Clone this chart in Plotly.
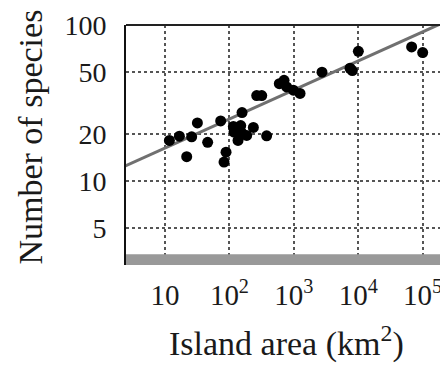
import numpy as np
import plotly.graph_objects as go

# Data (island area km^2, number of species)
area = [11.7, 16.7, 25.9, 21.7, 31.8, 45.9, 73.1, 88.5, 82.4, 117.8,
        149.6, 156.8, 135.8, 185.2, 235, 378, 265, 317, 595, 704,
        774, 982, 1247, 2735, 7443, 8090, 10030, 67400, 100000, 115, 155]
species = [18.3, 19.5, 19.3, 14.4, 23.7, 17.8, 24.4, 15.4, 13.3, 20.7,
           22.8, 27.6, 18.3, 19.7, 22.2, 19.6, 35.5, 35.5, 42.3, 44.4,
           40.3, 38.4, 36.6, 50.1, 53.1, 51.3, 68.2, 72.7, 66.9, 22.5, 20.5]

# Fitted species-area relation S = c * A^z
fit_c = 10.67
fit_z = 0.186

x_tickvals = [10, 100, 1000, 10000, 100000]
x_ticktext = ["10", "10<sup>2</sup>", "10<sup>3</sup>", "10<sup>4</sup>", "10<sup>5</sup>"]
y_tickvals = [5, 10, 20, 50, 100]
y_ticktext = ["5", "10", "20", "50", "100"]

x_range_log = [0.394, 5.362]
y_range_log = [0.465, 2.002]

line_x = np.logspace(x_range_log[0] - 0.05, x_range_log[1] + 0.05, 50)
line_y = fit_c * line_x ** fit_z

FONT = "Liberation Serif"

fig = go.Figure()
fig.add_trace(go.Scatter(x=line_x, y=line_y, mode="lines",
                         line=dict(color="#707070", width=3),
                         hoverinfo="skip", showlegend=False))
fig.add_trace(go.Scatter(x=area, y=species, mode="markers",
                         marker=dict(color="black", size=11, line=dict(width=0)),
                         showlegend=False))

fig.update_layout(
    width=440, height=358,
    margin=dict(l=118, r=2, t=13, b=101),
    paper_bgcolor="white", plot_bgcolor="white",
    font=dict(family=FONT, color="#1a1a1a"),
    xaxis=dict(type="log", range=x_range_log, tickvals=x_tickvals, ticktext=x_ticktext,
               showgrid=True, gridcolor="#555555", griddash="dot", gridwidth=1.5,
               zeroline=False, showline=False, ticks="",
               tickfont=dict(family=FONT, size=29, color="#1a1a1a"),
               ticklabelstandoff=10, ticklabeloverflow="allow"),
    yaxis=dict(type="log", range=y_range_log, tickvals=y_tickvals, ticktext=y_ticktext,
               showgrid=True, gridcolor="#555555", griddash="dot", gridwidth=1.5,
               zeroline=False, showline=True, linecolor="#111111", linewidth=2,
               ticks="", tickfont=dict(family=FONT, size=28, color="#1a1a1a"),
               ticklabelstandoff=12, ticklabeloverflow="allow"),
    shapes=[
        dict(type="rect", xref="paper", yref="paper", x0=0, x1=1, y0=0, y1=0.045,
             fillcolor="#999999", line=dict(width=0), layer="above"),
        dict(type="line", xref="paper", yref="paper", x0=0, x1=1, y0=1, y1=1,
             line=dict(color="#222222", width=2), layer="above"),
    ],
    annotations=[
        dict(text="Island area (km<sup>2</sup>)", xref="paper", yref="paper",
             x=0.5, y=-0.32, xanchor="center", yanchor="middle", showarrow=False,
             font=dict(family=FONT, size=34, color="#1a1a1a")),
        dict(text="Number of species", xref="paper", yref="paper",
             x=-0.297, y=0.535, xanchor="center", yanchor="middle", showarrow=False,
             textangle=-90, font=dict(family=FONT, size=34, color="#1a1a1a")),
    ],
)

fig.write_html("out.html")
